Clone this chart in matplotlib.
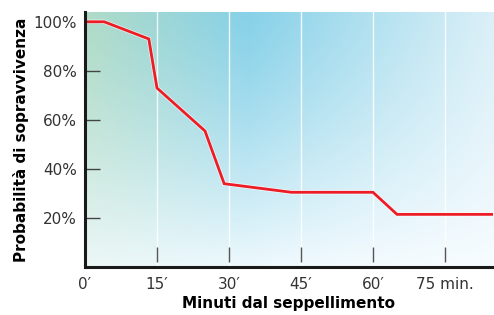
import numpy as np
import matplotlib
matplotlib.use("Agg")
import matplotlib.pyplot as plt
import matplotlib.patheffects as pe

# --- Data ---
minutes = [0, 4, 13.3, 15, 25, 29, 43, 60, 65, 85]
survival = [100, 100, 93, 73, 55.5, 34, 30.5, 30.5, 21.5, 21.5]
x_ticks = [0, 15, 30, 45, 60, 75]
x_labels = ["0\u2032", "15\u2032", "30\u2032", "45\u2032", "60\u2032", "75 min."]
y_ticks = [20, 40, 60, 80, 100]
y_labels = ["20%", "40%", "60%", "80%", "100%"]

plt.rcParams['font.family'] = ['DejaVu Sans']

fig = plt.figure(figsize=(4.94, 3.15), dpi=100)
ax = fig.add_axes([0.172, 0.152, 0.826, 0.81])

x_max, y_max = 85, 104
ax.set_xlim(0, x_max)
ax.set_ylim(0, y_max)

# --- Background gradient: green top-left, blue top-middle, fading to white ---
nx, ny = 300, 200
gx = np.linspace(0, 1, nx)[None, :]
gy = np.linspace(0, 1, ny)[:, None]  # 0 = bottom, 1 = top
green = np.array([0.69, 0.86, 0.78])
blue = np.array([0.53, 0.82, 0.91])
pale = np.array([0.86, 0.94, 0.97])
w_blue = np.clip(gx / 0.4, 0, 1)[..., None]
w_pale = np.clip((gx - 0.4) / 0.6, 0, 1)[..., None]
top = green * (1 - w_blue) + blue * w_blue
top = top * (1 - w_pale) + pale * w_pale
fade = (1 - gy) ** 1.3 * 0.85
fade = np.clip(fade + 0.15 * gx * (1 - gy), 0, 0.95)[..., None]
img = top * (1 - fade) + np.array([0.97, 0.99, 1.0]) * fade
img = np.broadcast_to(img, (ny, nx, 3))
ax.imshow(img, extent=[0, x_max, 0, y_max], origin="lower", aspect="auto", zorder=0)

# --- Grid lines ---
for xv in x_ticks[1:]:
    ax.axvline(xv, color="white", lw=1.0, alpha=0.85, zorder=1)

# --- Short x tick marks, lifted off the axis ---
ax.vlines(x_ticks[1:], 2.0, 8.2, color="#555555", lw=1.0, zorder=2)

# --- Line ---
ax.plot(minutes, survival, color="#ee1c25", lw=2.0, zorder=3,
        path_effects=[pe.Stroke(linewidth=3.2, foreground="white", alpha=0.6), pe.Normal()],
        solid_joinstyle="miter")

# --- Axes styling ---
for s in ["top", "right"]:
    ax.spines[s].set_visible(False)
for s in ["left", "bottom"]:
    ax.spines[s].set_linewidth(2.2)
    ax.spines[s].set_color("#1a1a1a")
    ax.spines[s].set_zorder(4)

ax.set_xticks(x_ticks)
ax.set_xticklabels(x_labels)
ax.set_yticks(y_ticks)
ax.set_yticklabels(y_labels)
ax.tick_params(axis="x", length=0, labelsize=11, labelcolor="#333333", pad=7)
ax.tick_params(axis="y", direction="in", length=11, width=1, color="#444444",
               labelsize=11, labelcolor="#333333", pad=6)

ax.set_xlabel("Minuti dal seppellimento", fontsize=11, fontweight="bold", labelpad=3)
ax.set_ylabel("Probabilità di sopravvivenza", fontsize=11, fontweight="bold", labelpad=3)

fig.savefig("out.png", dpi=100)
